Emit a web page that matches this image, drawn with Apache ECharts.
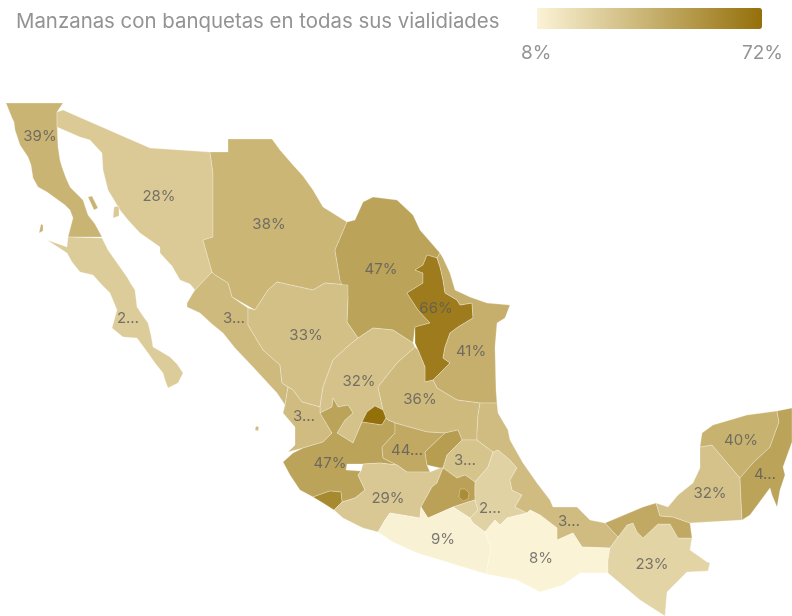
<!DOCTYPE html>
<html lang="es">
<head>
<meta charset="utf-8">
<title>Manzanas con banquetas</title>
<style>
  html, body { margin: 0; padding: 0; background: #fff; }
  #chart { width: 792px; height: 616px; }
</style>
<script src="https://cdn.jsdelivr.net/npm/echarts@6/dist/echarts.min.js"></script>
</head>
<body>
<div id="chart"></div>
<script>
// Share of city blocks with sidewalks on every street, by state.
const states = ['Baja California', 'Baja California Sur', 'Sonora', 'Chihuahua', 'Coahuila', 'Nuevo León', 'Tamaulipas',
  'Sinaloa', 'Durango', 'Zacatecas', 'San Luis Potosí', 'Aguascalientes', 'Nayarit', 'Jalisco', 'Colima', 'Guanajuato',
  'Querétaro', 'Hidalgo', 'Michoacán', 'México', 'Ciudad de México', 'Morelos', 'Tlaxcala', 'Puebla', 'Veracruz',
  'Guerrero', 'Oaxaca', 'Chiapas', 'Tabasco', 'Campeche', 'Yucatán', 'Quintana Roo'];
const shares = [39, 27, 28, 38, 47, 66, 41,
  36, 33, 32, 36, 72, 35, 47, 60, 44,
  50, 31, 29, 48, 58, 26, 20, 24, 35,
  9, 8, 23, 44, 32, 40, 47];
// Characters kept before the label is cut with an ellipsis; 0 means no label, 9 means the whole figure.
const labelKeep = [9, 1, 9, 9, 9, 9, 9,
  1, 9, 9, 9, 0, 1, 9, 0, 2,
  0, 1, 9, 0, 0, 0, 0, 1, 1,
  9, 9, 9, 0, 9, 9, 1];
const scaleMin = 8;
const scaleMax = 72;
const title = 'Manzanas con banquetas en todas sus vialidiades';

// State outlines in map units, with the anchor point of each label.
const outlines = {
  'Baja California': { cp: [40, 136], rings: [
    [[6,103],[63,103],[57,112],[57,123],[58,147],[60,160],[62,167],[66,178],[70,187],[83,200],[88,215],[95,224],[102,237],[68,237],[73,218],[70,210],[65,205],[47,192],[38,187],[33,178],[31,165],[28,157],[20,145],[15,130],[14,122],[12,118]],
    [[88,197],[92,196],[98,208],[94,210]],
    [[41,224],[43,225],[43,231],[39,233]]] },
  'Baja California Sur': { cp: [128, 318], rings: [
    [[68,237],[102,238],[108,250],[115,260],[127,277],[131,284],[135,290],[137,307],[143,316],[148,323],[151,335],[153,347],[160,351],[170,357],[177,364],[183,373],[178,383],[168,388],[165,380],[163,373],[155,363],[148,353],[137,338],[123,337],[112,328],[117,310],[110,293],[102,285],[93,275],[80,272],[72,262],[67,253],[47,240],[67,247]]] },
  'Sonora': { cp: [159, 196], rings: [
    [[57,112],[63,110],[150,148],[210,152],[213,173],[213,237],[203,240],[212,272],[195,290],[190,284],[180,280],[172,266],[160,253],[160,247],[140,233],[128,220],[120,210],[108,190],[103,170],[102,153],[90,140],[80,137],[57,127]],
    [[114,207],[119,206],[119,216],[113,218]]] },
  'Chihuahua': { cp: [269, 224], rings: [
    [[228,139],[272,139],[280,150],[293,165],[303,176],[313,190],[323,207],[347,222],[335,250],[340,280],[348,285],[325,283],[313,290],[277,282],[268,290],[255,310],[232,297],[228,283],[215,275],[212,272],[203,240],[213,237],[213,173],[210,152],[228,152]]] },
  'Coahuila': { cp: [381, 269], rings: [
    [[335,250],[347,222],[355,220],[363,202],[373,197],[397,200],[413,215],[420,230],[440,253],[437,258],[427,255],[423,265],[415,270],[423,273],[423,283],[407,293],[418,310],[430,323],[415,327],[413,343],[393,330],[373,328],[358,338],[347,322],[348,297],[340,280]]] },
  'Nuevo León': { cp: [436, 308], rings: [
    [[427,255],[437,258],[440,267],[443,280],[445,293],[457,300],[460,305],[472,303],[473,318],[458,327],[450,333],[445,347],[443,358],[450,363],[433,380],[425,382],[425,367],[418,350],[415,343],[415,327],[430,323],[418,310],[407,293],[423,283],[423,273],[415,270],[423,265]]] },
  'Tamaulipas': { cp: [471, 351], rings: [
    [[440,253],[443,258],[450,273],[455,290],[470,297],[487,303],[510,305],[505,318],[497,323],[495,347],[496,390],[497,403],[480,403],[457,400],[437,388],[433,380],[450,363],[443,358],[445,347],[450,333],[458,327],[473,318],[472,303],[460,305],[457,300],[445,293],[443,280],[440,267],[437,258]]] },
  'Sinaloa': { cp: [234, 318], rings: [
    [[187,303],[193,293],[195,290],[212,272],[215,275],[228,283],[232,297],[248,308],[248,325],[263,350],[280,365],[282,383],[288,387],[285,405],[277,393],[253,367],[235,348],[223,333],[212,324],[200,313],[187,307]]] },
  'Durango': { cp: [306, 335], rings: [
    [[248,308],[255,310],[268,290],[277,282],[313,290],[325,283],[348,285],[348,297],[347,322],[358,338],[347,347],[333,360],[323,387],[320,407],[302,402],[293,390],[282,383],[280,365],[263,350],[248,325]]] },
  'Zacatecas': { cp: [359, 381], rings: [
    [[323,387],[333,360],[347,347],[358,338],[373,328],[393,330],[413,343],[415,347],[397,363],[378,387],[383,410],[375,406],[367,412],[362,422],[353,443],[337,433],[345,420],[353,413],[348,405],[338,407],[333,398],[332,407],[320,413],[320,407]]] },
  'San Luis Potosí': { cp: [420, 399], rings: [
    [[415,347],[418,350],[425,367],[425,382],[433,380],[437,388],[457,400],[480,403],[478,415],[477,433],[477,440],[462,440],[458,430],[445,433],[427,432],[395,423],[388,420],[386,418],[383,410],[378,387],[397,363]]] },
  'Aguascalientes': { rings: [
    [[362,422],[367,412],[375,406],[383,410],[386,418],[382,425]]] },
  'Nayarit': { cp: [304, 416], rings: [
    [[285,405],[288,387],[293,390],[302,402],[320,407],[320,413],[332,433],[323,442],[303,448],[288,452],[295,445],[295,427],[283,413]],
    [[256,426],[259,427],[258,431],[255,430]]] },
  'Jalisco': { cp: [330, 463], rings: [
    [[320,413],[332,407],[333,398],[338,407],[348,405],[353,413],[345,420],[337,433],[353,443],[362,422],[382,425],[386,418],[388,420],[395,423],[395,433],[382,447],[383,458],[397,465],[380,463],[363,464],[347,464],[346,470],[361,471],[358,475],[365,490],[355,498],[342,502],[341,492],[330,491],[313,497],[300,490],[290,475],[283,462],[293,453],[303,448],[323,442],[332,433]]] },
  'Colima': { rings: [
    [[313,497],[330,491],[341,492],[342,502],[334,510],[323,503]]] },
  'Guanajuato': { cp: [407, 450], rings: [
    [[395,423],[427,432],[445,433],[425,452],[427,465],[430,472],[407,472],[397,465],[383,458],[382,447],[395,433]]] },
  'Querétaro': { rings: [
    [[445,433],[458,430],[462,440],[447,455],[443,468],[440,468],[427,465],[425,452]]] },
  'Hidalgo': { cp: [465, 460], rings: [
    [[447,455],[462,440],[477,440],[493,452],[488,467],[475,482],[465,475],[457,478],[443,468]]] },
  'Michoacán': { cp: [388, 498], rings: [
    [[358,475],[361,471],[363,464],[380,463],[397,465],[407,472],[430,472],[440,468],[443,468],[437,483],[432,487],[421,507],[420,518],[390,513],[385,520],[378,532],[363,528],[343,518],[334,510],[342,502],[355,498],[365,490]]] },
  'México': { rings: [
    [[443,468],[457,478],[465,475],[475,482],[475,500],[468,502],[453,507],[428,518],[421,507],[432,487],[437,483]]] },
  'Ciudad de México': { rings: [
    [[460,489],[465,489],[469,493],[468,499],[463,501],[459,497]]] },
  'Morelos': { rings: [
    [[453,507],[468,502],[475,500],[478,510],[470,518]]] },
  'Tlaxcala': { rings: [
    [[475,485],[490,483],[500,490],[497,500],[480,500],[475,495]]] },
  'Puebla': { cp: [490, 508], rings: [
    [[498,450],[510,460],[517,468],[510,480],[512,490],[522,495],[515,507],[527,513],[507,518],[500,525],[495,520],[485,532],[473,523],[470,518],[478,510],[475,500],[475,482],[488,467],[493,452]]] },
  'Veracruz': { cp: [569, 521], rings: [
    [[497,403],[498,413],[508,430],[510,440],[523,463],[537,483],[550,500],[553,507],[577,507],[590,520],[605,523],[618,537],[610,548],[582,547],[573,533],[557,540],[557,528],[540,515],[530,510],[527,513],[515,507],[522,495],[512,490],[510,480],[517,468],[510,460],[498,450],[493,452],[477,440],[477,433],[478,415],[480,403]]] },
  'Guerrero': { cp: [443, 539], rings: [
    [[378,532],[385,520],[390,513],[420,518],[421,507],[428,518],[453,507],[470,518],[473,523],[485,532],[491,548],[486,574],[450,563],[417,553],[393,542]]] },
  'Oaxaca': { cp: [541, 558], rings: [
    [[485,532],[495,520],[500,525],[507,518],[527,513],[530,510],[540,515],[557,528],[557,540],[573,533],[582,547],[610,548],[608,560],[608,573],[580,573],[563,585],[540,592],[517,580],[486,574],[491,548]]] },
  'Chiapas': { cp: [652, 564], rings: [
    [[610,548],[618,537],[627,525],[633,523],[637,532],[643,538],[658,524],[670,524],[678,538],[692,538],[690,550],[707,562],[710,563],[708,571],[687,572],[667,592],[665,616],[640,600],[608,573],[608,560]]] },
  'Tabasco': { rings: [
    [[605,523],[643,507],[656,503],[660,516],[673,517],[690,523],[692,538],[678,538],[670,524],[658,524],[643,538],[637,532],[633,523],[627,525],[618,537]]] },
  'Campeche': { cp: [710, 493], rings: [
    [[656,503],[668,507],[678,495],[693,483],[700,468],[700,447],[712,445],[740,478],[742,520],[690,523],[673,517],[660,516]]] },
  'Yucatán': { cp: [741, 440], rings: [
    [[702,433],[713,425],[747,415],[777,411],[779,422],[770,447],[753,463],[740,478],[712,445],[700,447]]] },
  'Quintana Roo': { cp: [765, 474], rings: [
    [[777,411],[792,408],[792,442],[783,467],[785,475],[780,490],[777,507],[772,495],[770,488],[750,515],[742,520],[740,478],[753,463],[770,447],[779,422]]] }
};

function closeRing(ring) {
  return ring.concat([ring[0]]);
}

const features = states.map(function (name) {
  const shape = outlines[name];
  const properties = { name: name };
  if (shape.cp) properties.cp = shape.cp;
  return {
    type: 'Feature',
    properties: properties,
    geometry: {
      type: 'MultiPolygon',
      coordinates: shape.rings.map(function (ring) { return [closeRing(ring)]; })
    }
  };
});

echarts.registerMap('estados', { type: 'FeatureCollection', features: features });

function stateLabel(params) {
  const keep = labelKeep[states.indexOf(params.name)];
  if (!keep) return '';
  return keep >= 9 ? params.value + '%' : String(params.value).slice(0, keep) + '…';
}

const chart = echarts.init(document.getElementById('chart'), null, { renderer: 'canvas' });
chart.setOption({
  animation: false,
  backgroundColor: '#ffffff',
  title: {
    text: title,
    left: 11,
    top: 7,
    textStyle: { fontFamily: 'Inter', fontSize: 20.4, fontWeight: 400, color: '#939393' }
  },
  visualMap: {
    type: 'continuous',
    min: scaleMin,
    max: scaleMax,
    orient: 'horizontal',
    left: 537,
    top: 8,
    itemWidth: 21,
    itemHeight: 225,
    padding: 0,
    borderRadius: 0,
    calculable: false,
    hoverLink: false,
    text: null,
    inRange: { color: ['#fbf3d6', '#94700a'] }
  },
  graphic: [
    { type: 'text', left: 521, top: 44, style: { text: scaleMin + '%', fontFamily: 'Inter', fontSize: 19, fill: '#939393' } },
    { type: 'text', right: 9, top: 44, style: { text: scaleMax + '%', fontFamily: 'Inter', fontSize: 19, fill: '#939393' } }
  ],
  series: [{
    type: 'map',
    map: 'estados',
    silent: true,
    roam: false,
    aspectScale: 1,
    projection: {
      project: function (point) { return point; },
      unproject: function (point) { return point; }
    },
    boundingCoords: [[0, 0], [792, 616]],
    left: 0,
    top: 0,
    width: 792,
    height: 616,
    itemStyle: { borderColor: 'rgba(255,255,255,0.45)', borderWidth: 0.6 },
    label: {
      show: true,
      formatter: stateLabel,
      fontFamily: 'Inter',
      fontSize: 15,
      color: 'rgba(90,90,90,0.8)'
    },
    data: states.map(function (name, i) { return { name: name, value: shares[i] }; })
  }]
});
</script>
</body>
</html>
